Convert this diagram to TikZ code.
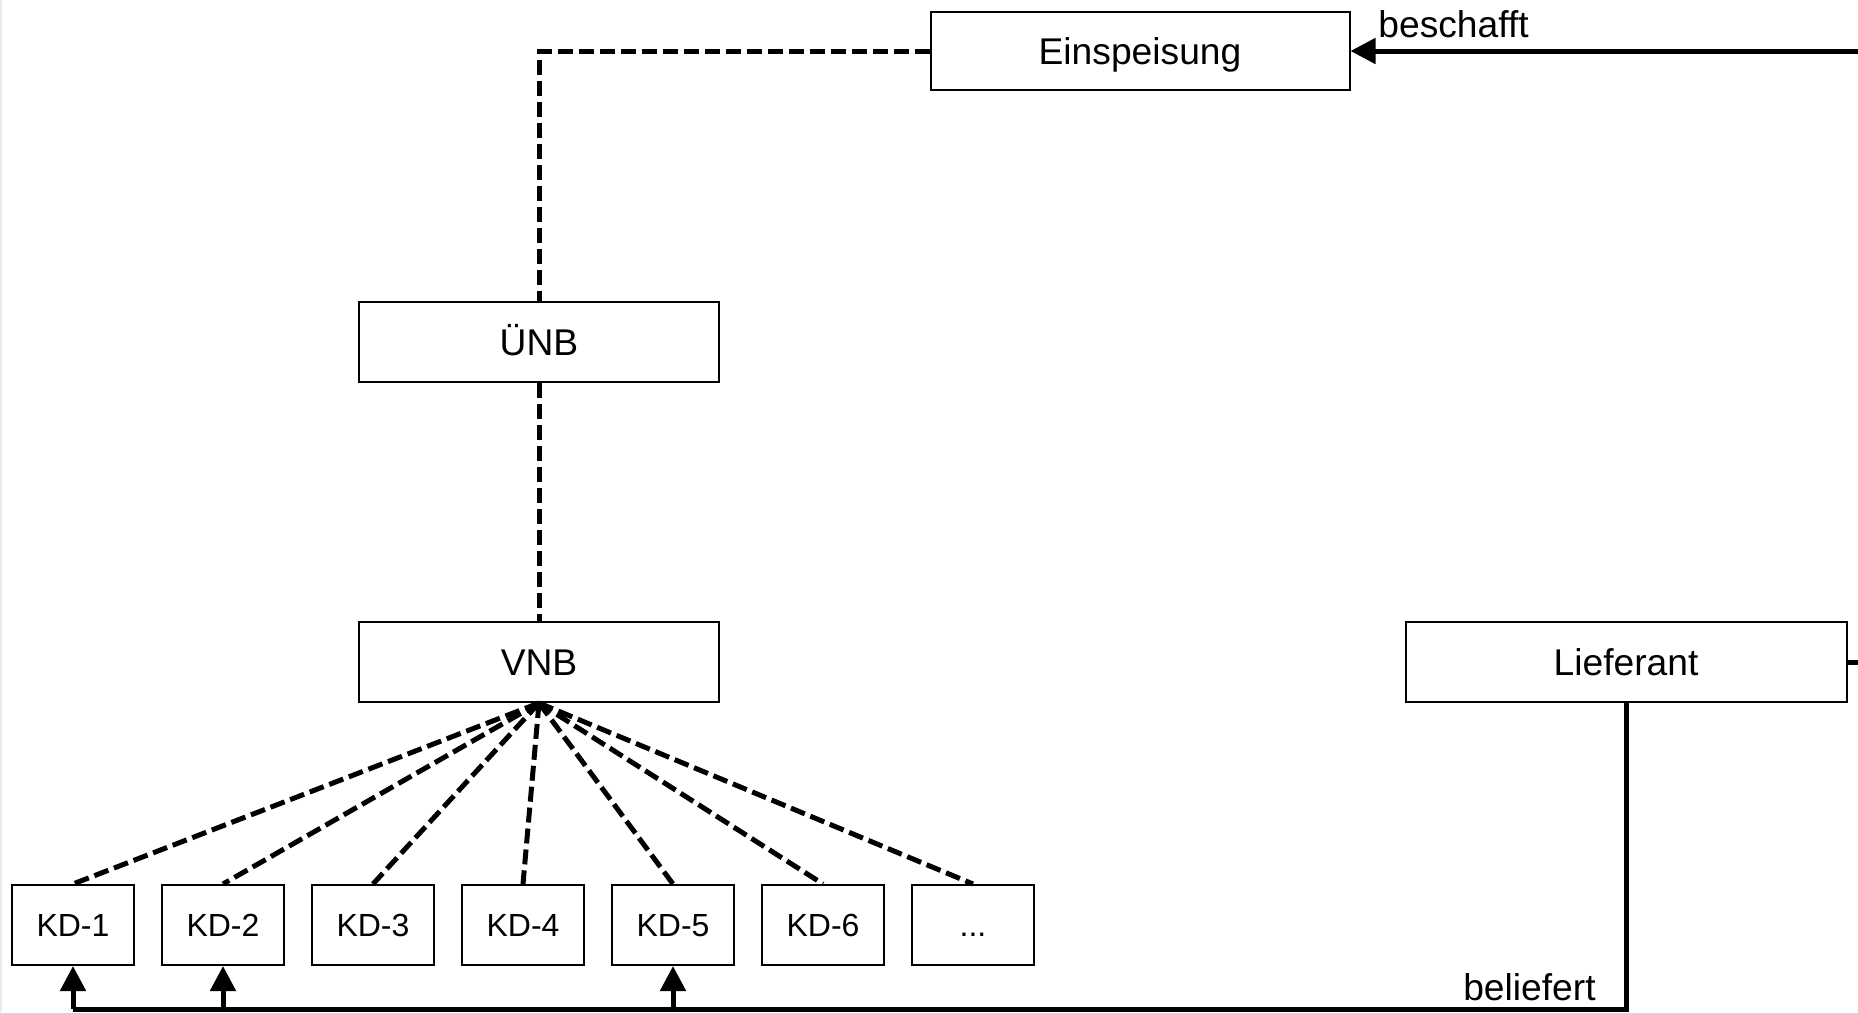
\documentclass[tikz,border=0pt]{standalone}
\usepackage{fontspec}
\setmainfont{Liberation Sans}
\usetikzlibrary{arrows.meta}
\begin{document}
\begin{tikzpicture}[x=0.5pt, y=-0.5pt,
    box/.style={rectangle, draw, line width=1pt, minimum width=#1,
                minimum height=40pt, inner sep=0pt,
                text height=13.3pt, text depth=0pt,
                font=\fontsize{18.6}{22}\selectfont},
    kd/.style={box=61pt, text height=11.5pt,
               font=\fontsize{16}{19}\selectfont},
    dashlink/.style={line width=2.5pt, dash pattern=on 7.5pt off 3pt},
    solidlink/.style={line width=2.5pt},
    arr/.style={solidlink, -{Triangle[length=12.5pt, width=12.5pt]}},
    lbl/.style={font=\fontsize{18.6}{22}\selectfont, inner sep=0pt}
]
\clip (0,0) rectangle (1858,1012);
\fill[white] (0,0) rectangle (1858,1012);
\draw[black!8, line width=1pt] (1,0) -- (1,1012);

\node[box=209.5pt, minimum height=39pt] (einsp) at (1140,51) {Einspeisung};
\node[box=180pt] (unb) at (539,342) {ÜNB};
\node[box=180pt] (vnb) at (539,662) {VNB};
\node[box=220.5pt] (lief) at (1626,662) {Lieferant};
\foreach \i in {1,...,6}
    \node[kd] (kd\i) at ({73+150*(\i-1)},925) {KD-\i};
\node[kd] (kd7) at (973,925) {...};

% Netzanbindung
\draw[dashlink] (einsp.west) -| (unb.north);
\draw[dashlink] (unb.south) -- (vnb.north);
\foreach \i in {1,...,7}
    \draw[dashlink] (vnb.south) -- (kd\i.north);

% Belieferung
\coordinate (topR) at (1880,51);
\coordinate (midR) at (1880,662);
\coordinate (bot) at (0,1009);
\draw[arr] (topR) -- (einsp.east);
\draw[solidlink] (lief.east) -- (midR);
\draw[solidlink] (lief.south) |- (kd1.south |- bot);
\foreach \i in {1,2,5}
    \draw[arr] (kd\i.south |- bot) -- (kd\i.south);

\node[lbl, anchor=base west] (besch) at (1378,38) {beschafft};
\node[lbl, anchor=base east] (belief) at (1596,1000) {beliefert};
\end{tikzpicture}
\end{document}
